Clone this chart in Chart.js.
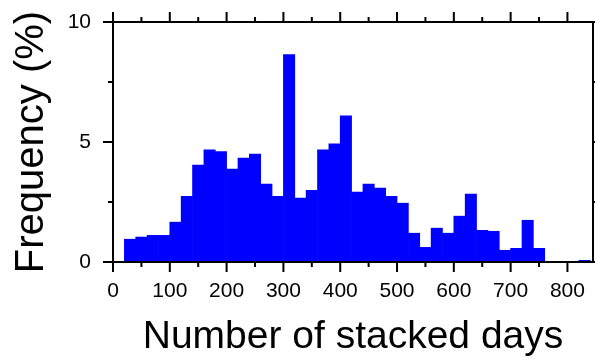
<!DOCTYPE html>
<html>
<head>
<meta charset="utf-8">
<script src="https://cdn.jsdelivr.net/npm/chart.js@4"></script>
<style>
  html, body { margin: 0; padding: 0; background: #fff; }
  #hist { display: block; }
</style>
</head>
<body>
<canvas id="hist" width="595" height="362"></canvas>
<script>
// histogram, 20 day bins (centre of each bin)
const binCenters = [30, 50, 70, 90, 110, 130, 150, 170, 190, 210,
    230, 250, 270, 290, 310, 330, 350, 370, 390, 410,
    430, 450, 470, 490, 510, 530, 550, 570, 590, 610,
    630, 650, 670, 690, 710, 730, 750, 770, 790, 810, 830];
const frequency = [0.95, 1.04, 1.11, 1.11, 1.66, 2.74, 4.04, 4.67, 4.60, 3.87,
    4.33, 4.50, 3.25, 2.74, 8.64, 2.66, 2.99, 4.67, 4.92, 6.09,
    2.91, 3.25, 3.08, 2.74, 2.45, 1.20, 0.61, 1.41, 1.20, 1.91,
    2.83, 1.32, 1.28, 0.49, 0.57, 1.74, 0.57, 0, 0, 0, 0.07];

const xTicks = [0, 100, 200, 300, 400, 500, 600, 700, 800];
const xMinorTicks = [50, 150, 250, 350, 450, 550, 650, 750];
const yTicks = [0, 5, 10];
const yMinorTicks = [2.5, 7.5];

const fontFamily = "'Liberation Sans', Arial, Helvetica, sans-serif";

// box round the plot with outward ticks on all four sides
const frameTicks = {
    id: 'frameTicks',
    afterDraw(chart) {
        const {ctx, chartArea: a, scales: {x, y}} = chart;
        const line = (x1, y1, x2, y2) => { ctx.moveTo(x1, y1); ctx.lineTo(x2, y2); };
        ctx.save();
        ctx.strokeStyle = '#000';
        ctx.lineWidth = 2;
        ctx.beginPath();
        xTicks.forEach(v => {
            const px = x.getPixelForValue(v);
            line(px, a.bottom, px, a.bottom + 10);
            line(px, a.top, px, a.top - 10);
        });
        xMinorTicks.forEach(v => {
            const px = x.getPixelForValue(v);
            line(px, a.bottom, px, a.bottom + 5);
            line(px, a.top, px, a.top - 5);
        });
        yTicks.forEach(v => {
            const py = y.getPixelForValue(v);
            line(a.left, py, a.left - 10, py);
            line(a.right, py, a.right + 10, py);
        });
        yMinorTicks.forEach(v => {
            const py = y.getPixelForValue(v);
            line(a.left, py, a.left - 5, py);
            line(a.right, py, a.right + 5, py);
        });
        ctx.stroke();
        ctx.strokeRect(a.left, a.top, a.right - a.left, a.bottom - a.top);
        ctx.restore();
    }
};

new Chart(document.getElementById('hist'), {
    type: 'bar',
    data: {
        datasets: [{
            label: 'Frequency',
            data: binCenters.map((c, i) => ({x: c, y: frequency[i]})),
            backgroundColor: '#0000ff',
            borderWidth: 0,
            barPercentage: 1,
            categoryPercentage: 1
        }]
    },
    options: {
        responsive: false,
        animation: false,
        layout: {
            padding: {top: 22, right: 2, left: 0, bottom: 0}
        },
        scales: {
            x: {
                type: 'linear',
                offset: false,
                min: 0,
                max: 845,
                afterBuildTicks: s => { s.ticks = xTicks.map(v => ({value: v})); },
                afterFit: s => {
                    s.height = 100;
                    s.paddingLeft = 0;
                    s.paddingRight = 0;
                },
                grid: {display: false, drawTicks: false, offset: false},
                border: {display: false},
                ticks: {
                    padding: 17,
                    maxRotation: 0,
                    color: '#000',
                    font: {family: fontFamily, size: 21}
                },
                title: {
                    display: true,
                    text: 'Number of stacked days',
                    color: '#000',
                    font: {family: fontFamily, size: 39},
                    padding: {top: 0, bottom: 1}
                }
            },
            y: {
                min: 0,
                max: 10,
                afterBuildTicks: s => { s.ticks = yTicks.map(v => ({value: v})); },
                afterFit: s => {
                    s.width = 113;
                    s.paddingTop = 0;
                    s.paddingBottom = 0;
                },
                grid: {display: false, drawTicks: false},
                border: {display: false},
                ticks: {
                    padding: 22,
                    color: '#000',
                    font: {family: fontFamily, size: 21}
                },
                title: {
                    display: true,
                    text: 'Frequency (%)',
                    color: '#000',
                    font: {family: fontFamily, size: 40},
                    padding: {top: 8, bottom: 0}
                }
            }
        },
        plugins: {
            legend: {display: false},
            tooltip: {enabled: false}
        }
    },
    plugins: [frameTicks]
});
</script>
</body>
</html>
